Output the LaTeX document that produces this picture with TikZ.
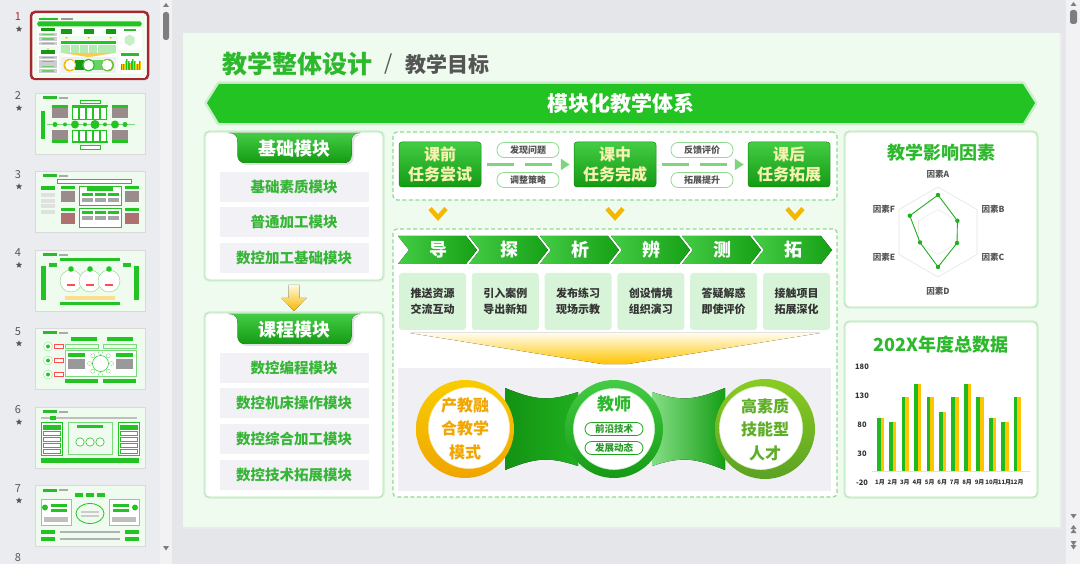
\documentclass[tikz,border=0pt]{standalone}
\usepackage{fontspec}
\setmainfont{Noto Sans CJK SC}
\usetikzlibrary{arrows.meta,shapes.geometric}
\definecolor{frameBg}{HTML}{E4E6E9}
\definecolor{paneBg}{HTML}{EBECEF}
\definecolor{trackBg}{HTML}{F2F2F4}
\definecolor{scrollG}{HTML}{7E7E80}
\definecolor{slideBg}{HTML}{EEFBEE}
\definecolor{gMain}{HTML}{22C322}
\definecolor{gTitle}{HTML}{2DB82D}
\definecolor{gText}{HTML}{36B536}
\definecolor{gDark}{HTML}{149A14}
\definecolor{gLight}{HTML}{44CC44}
\definecolor{gBorder}{HTML}{ABE3AB}
\definecolor{gDash}{HTML}{8EDC8E}
\definecolor{gCard}{HTML}{D8F4D8}
\definecolor{itemBg}{HTML}{F1F1F6}
\definecolor{panelBg}{HTML}{EFEFF4}
\definecolor{yel}{HTML}{F5B800}
\definecolor{yelLight}{HTML}{FFF3B8}
\definecolor{orng}{HTML}{F0A500}
\definecolor{lime}{HTML}{6CBF2A}
\definecolor{limeText}{HTML}{5FAE28}
\definecolor{cream}{HTML}{F7F2B0}
\definecolor{darkTxt}{HTML}{333333}
\definecolor{greyTxt}{HTML}{555555}
\definecolor{redSel}{HTML}{A5282C}
\definecolor{flowG}{HTML}{7DD67D}
\definecolor{barY}{HTML}{FFC400}
\definecolor{photo}{HTML}{9A8C8C}
\newcommand\fz[2]{\fontsize{#1}{#2}\selectfont}
\newcommand\miniSlide{%
  \fill[slideBg] (183,33) rectangle (1060,527);
  \fill[gTitle] (222,56) rectangle (372,73);
  \fill[greyTxt!60] (395,58) rectangle (490,72);
  \fill[gMain] (207,103)--(219,84)--(1023,84)--(1035,103)--(1023,123)--(219,123)--cycle;
  \fill[white] (205,132) rectangle (383,280);
  \fill[white] (205,313) rectangle (383,497);
  \fill[gDark] (237,133) rectangle (352,163);
  \fill[gDark] (237,313) rectangle (352,344);
  \foreach \y in {187,222,258,368,403,439,475}{\fill[itemBg!85!black] (219,\y-15) rectangle (368,\y+15);
    \fill[gText!70] (245,\y-5) rectangle (343,\y+5);}
  \fill[yel] (282,298) -- (306,298) -- (294,311) -- cycle;
  \fill[white] (393,132) rectangle (837,200);
  \fill[white] (393,229) rectangle (837,497);
  \foreach \x in {440,615,789}{\fill[gDark] (\x-41,142) rectangle (\x+41,187);
    \fill[yel] (\x-9,208) -- (\x+9,208) -- (\x,222) -- cycle;}
  \fill[gMain] (398,236) rectangle (832,264);
  \foreach \i in {0,...,5}{\fill[gCard!80!gMain] ({399+72.8*\i},273) rectangle ({466+72.8*\i},330);}
  \fill[yel!70] (410,333) -- (820,333) -- (628,364) -- (602,364) -- cycle;
  \fill[panelBg] (398,368) rectangle (831,491);
  \fill[gDark] (505,392) rectangle (578,466);
  \fill[gMain!70] (652,392) rectangle (725,466);
  \fill[yel] (465,429) circle (49); \fill[white] (469,428) circle (40);
  \fill[gMain] (614,429) circle (49); \fill[white] (614,429) circle (40);
  \fill[lime] (765,429) circle (50); \fill[white] (761,428) circle (41);
  \fill[white] (845,132) rectangle (1037,307);
  \fill[white] (845,322) rectangle (1037,497);
  \fill[gTitle] (890,146) rectangle (992,161);
  \fill[gTitle] (873,337) rectangle (1010,353);
  \fill[gMain!25] (938,187)--(977,209.5)--(977,254.5)--(938,277)--(899,254.5)--(899,209.5)--cycle;
  \foreach \i/\v in {0/92,1/84,2/128,3/150,4/128,5/102,6/128,7/150,8/128,9/92,10/84,11/128}{%
    \fill[gMain] ({873+12.45*\i},471) rectangle ({880.5+12.45*\i},{471-0.58*\v});
    \fill[barY] ({880.5+12.45*\i},471) rectangle ({886+12.45*\i},{471-0.58*\v});}
}
\tikzset{
  itembox/.style={fill=itemBg, minimum width=149pt, minimum height=30pt, inner sep=0pt, text=gText, font=\fz{14.5}{17}\bfseries},
  panelbox/.style={fill=white, draw=gBorder, line width=0.8pt, rounded corners=4pt, inner sep=0pt, preaction={draw=gBorder!45, line width=3.5pt}},
  dashbox/.style={fill=white, draw=gDash, line width=1.2pt, dash pattern=on 4pt off 2.5pt, rounded corners=4pt, inner sep=0pt},
  tabtext/.style={text=white, font=\fz{18}{20}\bfseries, inner sep=0pt},
  stagebox/.style={rounded corners=3pt, top color=gLight, bottom color=gDark, draw=gDark!90!black, line width=0.5pt, minimum width=82pt, minimum height=45pt, text=cream, font=\fz{16}{20}\bfseries, align=center, inner sep=0pt},
  pill/.style={draw=gDash, line width=0.8pt, fill=white, rounded corners=7pt, minimum width=62pt, minimum height=15pt, inner sep=0pt, font=\fz{9}{10}\bfseries, text=darkTxt!85},
  flow/.style={draw=flowG, line width=3.5pt, dash pattern=on 27pt off 11pt, -{Triangle[length=9pt,width=11pt]}, shorten <=6pt, shorten >=4pt},
  vchev/.style={draw=yel, line width=4.5pt, line join=miter},
  chevtext/.style={text=white, font=\fz{18}{20}\bfseries, inner sep=0pt},
  card/.style={fill=gCard, rounded corners=3pt, minimum width=67pt, minimum height=57pt, align=center, font=\fz{11}{16}\bfseries, text=darkTxt, inner sep=0pt},
  minipill/.style={draw=gMain!85!black, line width=0.8pt, fill=white, rounded corners=6.5pt, minimum width=58pt, minimum height=13pt, inner sep=0pt, text=gTitle!85!black, font=\fz{9.5}{10}\bfseries},
  circtext/.style={align=center, font=\fz{16}{23.5}\bfseries, inner sep=0pt},
  radlab/.style={text=greyTxt, font=\fz{8.5}{9}\bfseries, inner sep=0pt},
  axlab/.style={text=darkTxt, font=\fz{7.5}{8}\bfseries, inner sep=0pt},
  monlab/.style={text=darkTxt, font=\fz{6}{7}\bfseries, inner sep=0pt},
  paneltitle/.style={text=gTitle, font=\fz{18}{20}\bfseries, inner sep=0pt},
  numlab/.style={text=greyTxt, font=\fz{11}{12}, inner sep=0pt},
  starmark/.style={star, star points=5, star point ratio=2.2, fill=greyTxt, minimum size=6.5pt, inner sep=0pt},
  thumbframe/.style={fill=slideBg, draw=black!15, line width=0.4pt}
}
\newcommand\tabshape[4]{%
  \begin{scope}[shift={(#2,#3)}]
    \fill[black!12] (-64,2) .. controls (-58,2) and (-55,5) .. (-55,11) -- (-55,24) .. controls (-55,29) and (-52,32) .. (-47,32) -- (51,32) .. controls (56,32) and (59,29) .. (59,24) -- (59,11) .. controls (59,5) and (61,2) .. (68,2) -- cycle;
    \fill[top color=gLight, bottom color=gDark] (-66,0) .. controls (-59,0) and (-57,3) .. (-57,9) -- (-57,22) .. controls (-57,27) and (-54,30) .. (-49,30) -- (49,30) .. controls (54,30) and (57,27) .. (57,22) -- (57,9) .. controls (57,3) and (59,0) .. (66,0) -- cycle;
    \node[tabtext] (#1) at (0,15.5) {#4};
  \end{scope}}
\begin{document}
\begin{tikzpicture}[x=1pt,y=-1pt]
\useasboundingbox (0,0) rectangle (1080,564);
\clip (0,0) rectangle (1080,564);
% ---------- frame ----------
\fill[frameBg] (0,0) rectangle (1080,564);
\fill[paneBg] (0,0) rectangle (172,564);
\fill[trackBg] (160,0) rectangle (172,564);
\fill[scrollG, rounded corners=2.5pt] (163,12) rectangle (169,40);
\fill[scrollG] (163,7) -- (169,7) -- (166,3) -- cycle;
\fill[scrollG] (163,546) -- (169,546) -- (166,550.5) -- cycle;
\fill[trackBg] (1066,0) rectangle (1080,564);
\fill[scrollG, rounded corners=2.5pt] (1070,10) rectangle (1077,24);
\fill[scrollG] (1070.5,6) -- (1076.5,6) -- (1073.5,2) -- cycle;
\fill[scrollG] (1070.5,514) -- (1076.5,514) -- (1073.5,518.5) -- cycle;
\fill[scrollG] (1070.5,529) -- (1076.5,529) -- (1073.5,525) -- cycle;
\fill[scrollG] (1070.5,533) -- (1076.5,533) -- (1073.5,529) -- cycle;
\fill[scrollG] (1070.5,541) -- (1076.5,541) -- (1073.5,545.5) -- cycle;
\fill[scrollG] (1070.5,545) -- (1076.5,545) -- (1073.5,549.5) -- cycle;
% ---------- thumbnails ----------
\draw[redSel, line width=2.5pt, rounded corners=4pt, fill=white] (31,12) rectangle (148,79);
\begin{scope}[shift={(34,15)}, scale=0.1266, shift={(-183,-33)}]
  \miniSlide
\end{scope}
\node[numlab, text=redSel!90!red] (n1) at (18,17) {1};
\node[starmark] (st1) at (19,29) {};
\foreach \k/\t in {2/93,3/171.5,4/250,5/328.5,6/407,7/485.5}{%
  \node[numlab] (n\k) at (18,\t+3) {\k};
  \node[starmark] (st\k) at (19,\t+15) {};
  \draw[thumbframe] (35,\t) rectangle (145,\t+61);
  \begin{scope}[shift={(35,\t)}]
    \fill[gTitle] (8,3) rectangle (22,6);
    \fill[greyTxt!50] (24,3.6) rectangle (33,5.6);
  \end{scope}}
\node[numlab] (n8) at (18,557.5) {8};
% thumb 2
\begin{scope}[shift={(35,93)}]
  \draw[gMain, line width=0.3pt, fill=white] (45,7) rectangle (65,10.5);
  \fill[gMain] (6,18) rectangle (10,46);
  \fill[gMain] (17,12) rectangle (33,15); \fill[photo] (17,15.5) rectangle (33,25);
  \fill[gMain] (77,12) rectangle (93,15); \fill[photo] (77,15.5) rectangle (93,25);
  \fill[gMain] (37,12) rectangle (73,14);
  \foreach \x in {37,44,51,58,65}{\draw[gMain, line width=0.3pt, fill=white] (\x,14.5) rectangle (\x+6,26);}
  \draw[gMain!60, line width=0.8pt] (12,31.5) -- (100,31.5);
  \foreach \x/\r in {20/2.5,30/2,40/4,50/2,60/4.5,70/2,80/4,90/2.5}{\fill[gMain] (\x,31.5) circle (\r);}
  \fill[photo] (17,37) rectangle (33,47); \fill[gMain] (17,47.5) rectangle (33,50);
  \fill[photo] (77,37) rectangle (93,47); \fill[gMain] (77,47.5) rectangle (93,50);
  \foreach \x in {37,44,51,58,65}{\draw[gMain, line width=0.3pt, fill=white] (\x,37) rectangle (\x+6,48.5);}
  \fill[gMain] (37,48.5) rectangle (73,50.5);
  \draw[gMain, line width=0.3pt, fill=white] (45,52.5) rectangle (65,56);
\end{scope}
% thumb 3
\begin{scope}[shift={(35,171.5)}]
  \draw[gMain, line width=0.3pt, fill=white] (22,8) rectangle (96,12);
  \fill[gMain] (6,15) rectangle (20,19);
  \foreach \y in {22,27.5,33,38.5}{\fill[black!12] (6,\y) rectangle (20,\y+3.8);}
  \fill[gMain] (26,15) rectangle (40,18); \fill[photo] (26,20) rectangle (40,31);
  \fill[gMain] (26,37) rectangle (40,40); \fill[photo!80!red] (26,42) rectangle (40,53);
  \draw[gMain, line width=0.3pt, fill=white] (44,15) rectangle (86,34);
  \fill[gMain] (52,16) rectangle (78,20);
  \foreach \x in {47,60,73}{\fill[gMain] (\x,22) rectangle (\x+11,25); \fill[black!35] (\x,26.5) rectangle (\x+11,31);}
  \draw[gMain, line width=0.3pt, fill=white] (44,37) rectangle (86,56);
  \foreach \x in {47,60,73}{\fill[gMain] (\x,40) rectangle (\x+11,43); \fill[black!35] (\x,44.5) rectangle (\x+11,49);}
  \fill[gMain] (90,15) rectangle (104,18); \fill[photo] (90,20) rectangle (104,31);
  \fill[gMain] (90,37) rectangle (104,40); \fill[photo!80!red] (90,42) rectangle (104,53);
\end{scope}
% thumb 4
\begin{scope}[shift={(35,250)}]
  \fill[gMain] (25,8) rectangle (85,11.5);
  \fill[gMain] (6,16) rectangle (11,50); \fill[gMain] (99,16) rectangle (104,50);
  \fill[gMain] (14,13) rectangle (22,17); \fill[gMain] (88,13) rectangle (96,17);
  \foreach \x in {36,55,74}{\draw[gMain!60, line width=0.4pt, fill=white] (\x,31) circle (11); \fill[gMain] (\x,19) circle (2.8);
    \fill[red!70] (\x-4,34) rectangle (\x+4,36);}
  \fill[yel!45] (30,46) rectangle (80,50);
  \fill[gMain] (25,52) rectangle (85,55.5);
\end{scope}
% thumb 5
\begin{scope}[shift={(35,328.5)}]
  \foreach \y in {18,32,46}{\draw[gMain!50, line width=0.4pt, fill=white] (13,\y) circle (4.5); \fill[gMain] (13,\y) circle (2);
    \draw[red!70, line width=0.4pt, fill=white] (19,\y-2) rectangle (28,\y+2);}
  \fill[gMain] (36,9) rectangle (62,13); \fill[gMain] (72,9) rectangle (98,13);
  \draw[gMain!60, line width=0.3pt] (30,16) rectangle (63,19.5); \draw[gMain!60, line width=0.3pt] (68,16) rectangle (101,19.5);
  \draw[gMain!60, line width=0.3pt, fill=white] (30,22) rectangle (101,48);
  \fill[gMain] (33,25) rectangle (50,29); \fill[black!40] (33,31) rectangle (50,40);
  \fill[gMain] (81,25) rectangle (98,29); \fill[black!40] (81,31) rectangle (98,40);
  \draw[gMain, line width=0.5pt] (65.5,35) circle (8);
  \foreach \a in {0,45,...,315}{\draw[gMain!70, line width=0.3pt, fill=white] ([shift={(\a:11)}]65.5,35) circle (2);}
  \fill[gMain] (30,50) rectangle (63,54.5); \fill[gMain] (68,50) rectangle (101,54.5);
\end{scope}
% thumb 6
\begin{scope}[shift={(35,407)}]
  \fill[black!25] (6,10) rectangle (102,12); \fill[gMain] (15,9) rectangle (21,13);
  \draw[gMain, line width=0.3pt, fill=white] (6,15) rectangle (27,48);
  \foreach \y in {18,24,30,36,42}{\draw[gMain, line width=0.3pt] (8,\y) rectangle (25,\y+4);}
  \fill[gMain] (8,18) rectangle (25,22);
  \draw[gMain, line width=0.3pt, fill=white] (83,15) rectangle (104,48);
  \foreach \y in {18,24,30,36,42}{\draw[gMain, line width=0.3pt] (85,\y) rectangle (102,\y+4);}
  \fill[gMain] (85,18) rectangle (102,22);
  \draw[gMain!60, line width=0.3pt] (33,15) rectangle (77,47);
  \fill[gMain] (42,18) rectangle (68,21);
  \foreach \x in {45,55,65}{\draw[gMain, line width=0.6pt, fill=white] (\x,35) circle (4.2);}
  \fill[gMain] (6,51) rectangle (104,55.5);
\end{scope}
% thumb 7
\begin{scope}[shift={(35,485.5)}]
  \fill[gMain] (40,7) rectangle (48,11); \fill[gMain] (51,7) rectangle (59,11); \fill[gMain] (62,7) rectangle (70,11);
  \draw[gMain!60, line width=0.3pt, fill=white] (6,14) rectangle (36,40);
  \fill[gMain] (10,22) circle (3); \fill[gMain] (16,18) rectangle (32,21); \fill[gMain] (16,23) rectangle (32,26); \fill[black!25] (9,31) rectangle (33,36);
  \draw[gMain!60, line width=0.3pt, fill=white] (74,14) rectangle (104,40);
  \fill[gMain] (100,22) circle (3); \fill[gMain] (78,18) rectangle (94,21); \fill[gMain] (78,23) rectangle (94,26); \fill[black!25] (77,31) rectangle (101,36);
  \draw[gMain, line width=0.8pt] (55,28) ellipse (14 and 10);
  \fill[black!20] (46,25) rectangle (64,27); \fill[black!20] (46,29.5) rectangle (64,31.5);
  \fill[gMain] (6,44) rectangle (20,48); \fill[black!30] (25,45) rectangle (85,47); \fill[gMain] (90,44) rectangle (104,48);
  \fill[gMain] (6,51) rectangle (20,55); \fill[black!30] (25,52) rectangle (85,54); \fill[gMain] (90,51) rectangle (104,55);
\end{scope}
% ---------- slide ----------
\fill[black!8] (184.5,34.5) rectangle (1061.5,528.5);
\fill[slideBg] (183,33) rectangle (1060,527);
\node[anchor=west, text=gTitle, font=\fz{25}{28}\bfseries, inner sep=0pt] (ttl) at (222,64) {教学整体设计};
\node[anchor=west, text=greyTxt, font=\fz{21}{24}, inner sep=0pt] (slash) at (384,64) {/};
\node[anchor=west, text=greyTxt, font=\fz{21}{24}\bfseries, inner sep=0pt] (sub) at (405,64) {教学目标};
% banner
\draw[gBorder!60, line width=5pt, line join=round] (207,103)--(219,84)--(1023,84)--(1035,103)--(1023,123)--(219,123)--cycle;
\fill[gMain] (207,103)--(219,84)--(1023,84)--(1035,103)--(1023,123)--(219,123)--cycle;
\node[text=white, font=\fz{21}{24}\bfseries, inner sep=0pt] (banner) at (621,103.5) {模块化教学体系};
% left column
\node[panelbox, minimum width=178pt, minimum height=148pt] (boxA) at (294,206) {};
\node[panelbox, minimum width=178pt, minimum height=184pt] (boxB) at (294,405) {};
\tabshape{tabA}{294.5}{133}{基础模块}
\tabshape{tabB}{294.5}{314}{课程模块}
\node[itembox] (a1) at (294,187) {基础素质模块};
\node[itembox] (a2) at (294,222) {普通加工模块};
\node[itembox] (a3) at (294,258) {数控加工基础模块};
\node[itembox] (b1) at (294,368) {数控编程模块};
\node[itembox] (b2) at (294,403) {数控机床操作模块};
\node[itembox] (b3) at (294,439) {数控综合加工模块};
\node[itembox] (b4) at (294,475) {数控技术拓展模块};
\fill[top color=yelLight!50, bottom color=yel] (288.5,285) -- (299.5,285) -- (299.5,298) -- (306.5,298) -- (294,311) -- (281.5,298) -- (288.5,298) -- cycle;
% center top
\node[dashbox, minimum width=444pt, minimum height=68pt] (topbox) at (615,166) {};
\node[stagebox] (s1) at (440,164.5) {课前\\任务尝试};
\node[stagebox] (s2) at (615,164.5) {课中\\任务完成};
\node[stagebox] (s3) at (789,164.5) {课后\\任务拓展};
\node[pill] (p1) at (528,150) {发现问题};
\node[pill] (p2) at (528,180) {调整策略};
\node[pill] (p3) at (702,150) {反馈评价};
\node[pill] (p4) at (702,180) {拓展提升};
\draw[flow] (s1.east) -- (s2.west);
\draw[flow] (s2.east) -- (s3.west);
\foreach \x in {438,615,795}{\draw[vchev] (\x-8,208.5) -- (\x,217.5) -- (\x+8,208.5);}
% center bottom
\node[dashbox, minimum width=444pt, minimum height=268pt] (botbox) at (615,363) {};
\foreach \i/\t in {0/导,1/探,2/析,3/辨,4/测,5/拓}{%
  \pgfmathsetmacro\L{398+71*\i}
  \fill[left color=gLight, right color=gDark!85!gMain] (\L,236) -- (\L+68,236) -- (\L+79,250) -- (\L+68,264) -- (\L,264) -- (\L+11,250) -- cycle;
  \node[chevtext] (c\i) at (\L+40,250) {\t};}
\foreach \i/\a/\b in {0/推送资源/交流互动,1/引入案例/导出新知,2/发布练习/现场示教,3/创设情境/组织演习,4/答疑解惑/即使评价,5/接触项目/拓展深化}{%
  \node[card] (k\i) at ({432.5+72.8*\i},301.5) {\a\\\b};}
\fill[top color=yelLight!25, bottom color=barY] (410,333) -- (820,333) -- (628,364) -- (602,364) -- cycle;
\fill[panelBg] (398,368) rectangle (831,491);
\fill[left color=gDark!95!black, right color=gMain!90!black] (505,388) .. controls (535,400) and (548,402) .. (578,392) -- (578,466) .. controls (548,456) and (535,458) .. (505,470) -- cycle;
\fill[left color=gMain!55!white, right color=gDark!90!gMain] (652,392) .. controls (682,402) and (695,400) .. (725,388) -- (725,470) .. controls (695,458) and (682,456) .. (652,466) -- cycle;
\node[circle, minimum size=98pt, inner sep=0pt, top color=yel!70!yellow, bottom color=orng] (oL) at (465,429) {};
\node[circle, minimum size=81pt, inner sep=0pt, fill=white, draw=yel!30, line width=0.6pt] (iL) at (469,428) {};
\node[circle, minimum size=98pt, inner sep=0pt, top color=gLight, bottom color=gDark] (oM) at (614,429) {};
\node[circle, minimum size=81pt, inner sep=0pt, fill=white, draw=gMain!25, line width=0.6pt] (iM) at (614,429) {};
\node[circle, minimum size=100pt, inner sep=0pt, top color=lime!80!yellow, bottom color=lime!85!black] (oR) at (765,429) {};
\node[circle, minimum size=83pt, inner sep=0pt, fill=white, draw=lime!25, line width=0.6pt] (iR) at (761,428) {};
\node[circtext, text=orng] (tL) at (465,428.5) {产教融\\合教学\\模式};
\node[text=gTitle, font=\fz{17}{20}\bfseries, inner sep=0pt] (tM) at (614,404) {教师};
\node[minipill] (m1) at (614,429) {前沿技术};
\node[minipill] (m2) at (614,448) {发展动态};
\node[circtext, text=limeText] (tR) at (765,429.5) {高素质\\技能型\\人才};
% right column: radar
\node[panelbox, minimum width=192pt, minimum height=175pt] (radarbox) at (941,219.5) {};
\node[paneltitle] (rt) at (941,153) {教学影响因素};
\begin{scope}[shift={(938,232)}]
  \draw[black!10, line width=0.6pt] (-90:45) -- (-30:45) -- (30:45) -- (90:45) -- (150:45) -- (210:45) -- cycle;
  \draw[black!8, line width=0.6pt] (-90:22.5) -- (-30:22.5) -- (30:22.5) -- (90:22.5) -- (150:22.5) -- (210:22.5) -- cycle;
  \coordinate (ra) at (-90:37); \coordinate (rb) at (-30:22.4); \coordinate (rc) at (30:22);
  \coordinate (rd) at (90:35); \coordinate (re) at (150:20.8); \coordinate (rf) at (210:32.6);
  \draw[gMain!90!black, line width=0.9pt, line join=round] (ra) -- (rb) -- (rc) -- (rd) -- (re) -- (rf) -- cycle;
  \foreach \p in {ra,rb,rc,rd,re,rf}{\fill[gMain!90!black] (\p) circle (2.2);}
\end{scope}
\node[radlab] (la) at (938,174.5) {因素A};
\node[radlab] (lb) at (993,209) {因素B};
\node[radlab] (lc) at (993,257) {因素C};
\node[radlab] (ld) at (938,291) {因素D};
\node[radlab] (le) at (884,257) {因素E};
\node[radlab] (lf) at (884,209) {因素F};
% right column: chart
\node[panelbox, minimum width=192pt, minimum height=175pt] (chartbox) at (941,409.5) {};
\node[paneltitle] (ct) at (941,345) {202X年度总数据};
\foreach \v in {180,130,80,30,-20}{\node[axlab] (ax\v) at (862,{471-0.58*\v}) {\v};}
\draw[black!12, line width=0.6pt] (872,471) -- (1030,471);
\foreach \i/\v/\m in {0/92/1月,1/84/2月,2/128/3月,3/150/4月,4/128/5月,5/102/6月,6/128/7月,7/150/8月,8/128/9月,9/92/10月,10/84/11月,11/128/12月}{%
  \fill[barY] ({880.5+12.45*\i},471) rectangle ({884+12.45*\i},{471-0.58*\v});
  \fill[gMain!95!black] ({876.7+12.45*\i},471) rectangle ({880.5+12.45*\i},{471-0.58*\v});
  \node[monlab] (mo\i) at ({880+12.45*\i},482) {\m};}
\end{tikzpicture}
\end{document}
